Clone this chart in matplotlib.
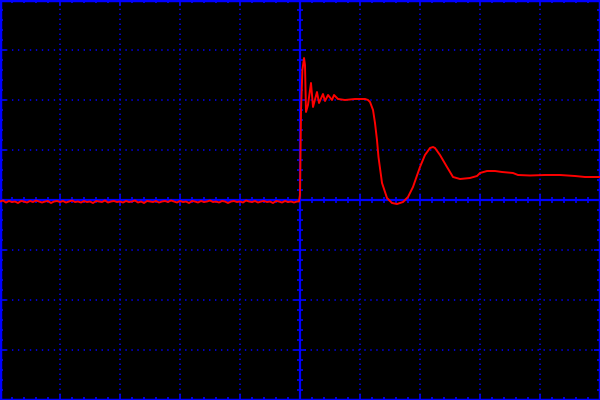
import matplotlib
matplotlib.use('Agg')
import matplotlib.pyplot as plt
from matplotlib.ticker import MultipleLocator

# Oscilloscope capture, units in screen divisions (10 x 8)
# baseline before the step (one point every 0.05 div)
base_t = [i / 20 for i in range(100)]
base_v = [-0.03, -0.01, -0.05, -0.02, -0.04, -0.03, -0.06, -0.02, -0.03, -0.05,
          -0.02, -0.04, -0.01, -0.03, -0.05, -0.03, -0.02, -0.06, -0.03, -0.02,
          -0.04, -0.02, -0.05, -0.03, -0.01, -0.04, -0.03, -0.05, -0.02, -0.04,
          -0.03, -0.06, -0.02, -0.03, -0.04, -0.01, -0.05, -0.03, -0.02, -0.04,
          -0.03, -0.05, -0.02, -0.04, -0.03, -0.01, -0.05, -0.03, -0.06, -0.02,
          -0.03, -0.04, -0.02, -0.05, -0.03, -0.02, -0.04, -0.01, -0.03, -0.05,
          -0.02, -0.04, -0.03, -0.06, -0.02, -0.03, -0.05, -0.02, -0.04, -0.03,
          -0.01, -0.04, -0.03, -0.05, -0.02, -0.03, -0.06, -0.03, -0.02, -0.04,
          -0.03, -0.05, -0.01, -0.03, -0.04, -0.02, -0.05, -0.03, -0.02, -0.04,
          -0.03, -0.06, -0.02, -0.03, -0.05, -0.02, -0.04, -0.03, -0.05, -0.03]

# step, ringing, fall and settling
step_t = [4.983, 5.0, 5.017, 5.04, 5.067, 5.083, 5.1, 5.133, 5.183, 5.217,
          5.283, 5.317, 5.383, 5.417, 5.467, 5.533, 5.567, 5.633, 5.75, 5.917,
          6.083, 6.133, 6.167, 6.217, 6.25, 6.283, 6.308, 6.367, 6.45, 6.533,
          6.617, 6.717, 6.8, 6.883, 7.0, 7.083, 7.167, 7.217, 7.25, 7.333,
          7.45, 7.55, 7.667, 7.833, 7.95, 8.0, 8.117, 8.25, 8.367, 8.55,
          8.633, 8.833, 9.083, 9.333, 9.583, 9.75, 10.0]
step_v = [-0.03, 0.1, 1.8, 2.6, 2.84, 2.7, 1.76, 1.9, 2.34, 1.86,
          2.16, 1.94, 2.12, 1.98, 2.1, 2.0, 2.1, 2.02, 2.0, 2.02,
          2.02, 2.0, 1.96, 1.8, 1.54, 1.2, 0.86, 0.34, 0.04, -0.06,
          -0.08, -0.04, 0.06, 0.26, 0.66, 0.9, 1.04, 1.06, 1.04, 0.9,
          0.66, 0.46, 0.42, 0.44, 0.48, 0.54, 0.58, 0.58, 0.56, 0.54,
          0.5, 0.49, 0.5, 0.5, 0.48, 0.46, 0.46]

BLUE = '#0000ff'
RED = '#ff0000'

plt.rcParams['lines.scale_dashes'] = False

fig = plt.figure(figsize=(6, 4), dpi=100, facecolor='black')
ax = fig.add_axes([0, 0, 1, 1])
ax.set_facecolor('black')
ax.set_xlim(0, 10)
ax.set_ylim(-4, 4)

# dotted graticule
for x in range(1, 10):
    if x != 5:
        ax.axvline(x, color=BLUE, lw=1.1, dashes=(1.0, 2.6))
for y in range(-3, 4):
    if y != 0:
        ax.axhline(y, color=BLUE, lw=1.1, dashes=(1.0, 3.3))

# border frame with ticks
for s in ax.spines.values():
    s.set_color(BLUE)
    s.set_linewidth(2.5)
ax.xaxis.set_major_locator(MultipleLocator(1))
ax.xaxis.set_minor_locator(MultipleLocator(0.2))
ax.yaxis.set_major_locator(MultipleLocator(1))
ax.yaxis.set_minor_locator(MultipleLocator(0.2))
ax.tick_params(which='both', direction='in', colors=BLUE, width=1.2,
               top=True, right=True, labelbottom=False, labelleft=False)
ax.tick_params(which='major', length=4)
ax.tick_params(which='minor', length=2.2)

# centre axes with ticks on both sides
ax2 = fig.add_axes([0, 0, 1, 1], sharex=ax, sharey=ax)
ax2.patch.set_visible(False)
ax2.spines['top'].set_visible(False)
ax2.spines['right'].set_visible(False)
ax2.spines['left'].set_position(('data', 5))
ax2.spines['bottom'].set_position(('data', 0))
ax2.spines['left'].set_color(BLUE)
ax2.spines['bottom'].set_color(BLUE)
ax2.spines['left'].set_linewidth(1.6)
ax2.spines['bottom'].set_linewidth(1.6)
ax2.tick_params(which='both', direction='inout', colors=BLUE, width=1.2,
                labelbottom=False, labelleft=False)
ax2.tick_params(which='major', length=8)
ax2.tick_params(which='minor', length=4.5)

ax2.plot(base_t + step_t, base_v + step_v, color=RED, lw=1.4, zorder=5)

fig.savefig('out.png', dpi=100, facecolor='black')
